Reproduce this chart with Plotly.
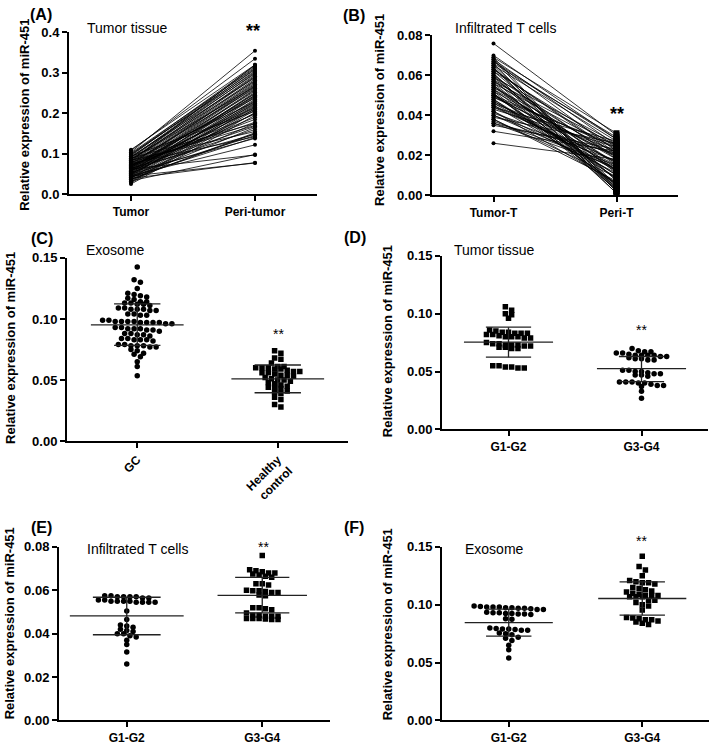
import plotly.graph_objects as go

W, H = 709, 747
FONT = "Arial, Liberation Sans, Helvetica, sans-serif"

# ---------------- DATA ----------------
# (A) Tumor tissue: paired samples
a_tumor = [0.104, 0.108, 0.110, 0.098, 0.095, 0.102, 0.090, 0.088, 0.085, 0.092,
           0.080, 0.083, 0.078, 0.075, 0.072, 0.086, 0.070, 0.068, 0.074, 0.065,
           0.062, 0.060, 0.077, 0.058, 0.055, 0.066, 0.052, 0.050, 0.063, 0.048,
           0.057, 0.045, 0.071, 0.043, 0.053, 0.040, 0.082, 0.038, 0.061, 0.047,
           0.035, 0.069, 0.032, 0.056, 0.030, 0.094, 0.028, 0.051, 0.025, 0.067,
           0.073, 0.044, 0.079, 0.041, 0.059, 0.084, 0.036, 0.064, 0.049, 0.076,
           0.042, 0.054, 0.089, 0.046, 0.033, 0.062, 0.071, 0.039, 0.045, 0.081,
           0.100, 0.093, 0.087, 0.066, 0.058, 0.050, 0.070, 0.063, 0.037, 0.097]
a_peri = [0.355, 0.335, 0.320, 0.318, 0.315, 0.312, 0.310, 0.305, 0.300, 0.298,
          0.295, 0.292, 0.290, 0.285, 0.282, 0.280, 0.278, 0.275, 0.272, 0.270,
          0.268, 0.265, 0.262, 0.260, 0.258, 0.255, 0.252, 0.250, 0.248, 0.245,
          0.242, 0.240, 0.238, 0.235, 0.232, 0.230, 0.228, 0.225, 0.222, 0.220,
          0.218, 0.215, 0.212, 0.210, 0.208, 0.205, 0.202, 0.200, 0.195, 0.190,
          0.178, 0.175, 0.170, 0.165, 0.160, 0.155, 0.150, 0.148, 0.145, 0.142,
          0.140, 0.138, 0.175, 0.122, 0.098, 0.097, 0.185, 0.078, 0.077, 0.320,
          0.302, 0.288, 0.266, 0.244, 0.226, 0.214, 0.198, 0.168, 0.152, 0.308]
a_cats = ["Tumor", "Peri-tumor"]

# (B) Infiltrated T cells: paired samples
b_tumor = [0.076, 0.070, 0.069, 0.068, 0.067, 0.066, 0.065, 0.064, 0.063, 0.062,
           0.061, 0.060, 0.059, 0.058, 0.057, 0.056, 0.055, 0.055, 0.054, 0.053,
           0.052, 0.051, 0.050, 0.050, 0.049, 0.048, 0.047, 0.046, 0.045, 0.044,
           0.043, 0.042, 0.041, 0.040, 0.039, 0.038, 0.037, 0.036, 0.035, 0.032,
           0.026, 0.068, 0.066, 0.064, 0.062, 0.060, 0.058, 0.056, 0.054, 0.052,
           0.050, 0.048, 0.046, 0.044, 0.042, 0.040, 0.038, 0.036, 0.069, 0.067,
           0.065, 0.063, 0.061, 0.059, 0.057, 0.053, 0.051, 0.049, 0.047, 0.045]
b_peri = [0.030, 0.028, 0.031, 0.025, 0.022, 0.004, 0.027, 0.003, 0.020, 0.024,
          0.002, 0.018, 0.026, 0.001, 0.015, 0.023, 0.005, 0.012, 0.021, 0.008,
          0.019, 0.003, 0.016, 0.010, 0.025, 0.006, 0.014, 0.022, 0.009, 0.017,
          0.024, 0.011, 0.020, 0.013, 0.026, 0.007, 0.015, 0.021, 0.023, 0.022,
          0.018, 0.002, 0.029, 0.005, 0.012, 0.001, 0.019, 0.008, 0.016, 0.004,
          0.024, 0.010, 0.013, 0.027, 0.006, 0.017, 0.009, 0.014, 0.003, 0.028,
          0.007, 0.021, 0.002, 0.011, 0.025, 0.018, 0.005, 0.020, 0.012, 0.015]
b_cats = ["Tumor-T", "Peri-T"]

# (C) Exosome: GC vs healthy control
c_gc = [0.1425, 0.132, 0.130, 0.125, 0.121, 0.120, 0.119, 0.118, 0.117, 0.116,
        0.114, 0.114, 0.113, 0.113, 0.112, 0.112, 0.111,
        0.109, 0.109, 0.108, 0.108, 0.108, 0.107, 0.107,
        0.104, 0.104, 0.103, 0.103,
        0.099, 0.099, 0.098, 0.098, 0.098, 0.098, 0.097, 0.097, 0.097, 0.097, 0.096, 0.096,
        0.093, 0.093, 0.092, 0.092, 0.092, 0.091, 0.091, 0.090,
        0.088, 0.088, 0.087, 0.087, 0.086,
        0.084, 0.084, 0.083, 0.083, 0.083, 0.082,
        0.079, 0.079, 0.078, 0.078, 0.078, 0.077, 0.077,
        0.075, 0.074, 0.072, 0.071, 0.069, 0.065, 0.061, 0.0535]
c_hc = [0.074, 0.072, 0.068, 0.067, 0.064, 0.061, 0.061, 0.060, 0.060, 0.060,
        0.059, 0.059, 0.058, 0.057, 0.057, 0.056, 0.056, 0.055, 0.054, 0.054,
        0.053, 0.052, 0.051, 0.050, 0.050, 0.049, 0.048, 0.047, 0.046, 0.045,
        0.044, 0.044, 0.043, 0.041, 0.040, 0.039, 0.036, 0.034, 0.030, 0.028]
c_cats = ["GC", "Healthy<br>control"]
c_mean = [0.0952, 0.0510]
c_sd_hi = [0.1123, 0.0623]
c_sd_lo = [0.0783, 0.0396]

# (D) Tumor tissue by grade
d_g12 = [0.106, 0.103, 0.100, 0.099, 0.096, 0.086, 0.085, 0.084, 0.084, 0.083,
         0.083, 0.083, 0.082, 0.082, 0.081, 0.080, 0.080, 0.080, 0.079, 0.079,
         0.075, 0.074, 0.074, 0.073, 0.073, 0.073, 0.072, 0.072, 0.071, 0.071,
         0.070, 0.070, 0.055, 0.055, 0.054, 0.054, 0.053, 0.053]
d_g34 = [0.070, 0.068, 0.067, 0.067, 0.066, 0.066, 0.065, 0.064, 0.064, 0.064,
         0.064, 0.063, 0.063, 0.062, 0.061, 0.061, 0.060, 0.060, 0.051, 0.051,
         0.050, 0.050, 0.049, 0.048, 0.048, 0.047, 0.047, 0.046, 0.041, 0.041,
         0.041, 0.040, 0.040, 0.039, 0.038, 0.038, 0.037, 0.033, 0.027]
grade_cats = ["G1-G2", "G3-G4"]
d_mean = [0.0754, 0.0525]
d_sd_hi = [0.0884, 0.0630]
d_sd_lo = [0.0624, 0.0412]

# (E) Infiltrated T cells by grade
e_g12 = [0.0575, 0.0575, 0.057, 0.057, 0.057, 0.057, 0.0565, 0.0565, 0.0555, 0.0555,
         0.055, 0.055, 0.055, 0.055, 0.0545, 0.0545, 0.0545, 0.0545, 0.0505, 0.0465,
         0.044, 0.0435, 0.043, 0.042, 0.0415, 0.041, 0.040, 0.040, 0.039, 0.0385,
         0.037, 0.035, 0.0315, 0.026]
e_g34 = [0.076, 0.0695, 0.069, 0.0685, 0.068, 0.068, 0.0675, 0.067, 0.0665, 0.066,
         0.063, 0.0625, 0.063, 0.060, 0.0598, 0.0598, 0.0595, 0.059, 0.059, 0.0578,
         0.0575, 0.052, 0.052, 0.0515, 0.051, 0.0495, 0.0485, 0.0485, 0.048, 0.048,
         0.048, 0.047, 0.047, 0.047, 0.0468, 0.0465, 0.0465]
e_mean = [0.0482, 0.0577]
e_sd_hi = [0.0568, 0.0660]
e_sd_lo = [0.0395, 0.0496]

# (F) Exosome by grade
f_g12 = [0.099, 0.0985, 0.098, 0.098, 0.098, 0.0975, 0.0975, 0.097, 0.097, 0.0965,
         0.096, 0.096, 0.0935, 0.093, 0.093, 0.0925, 0.0925, 0.092, 0.092, 0.0915,
         0.088, 0.0875, 0.080, 0.0795, 0.079, 0.079, 0.0785, 0.078, 0.078, 0.0755,
         0.075, 0.074, 0.072, 0.071, 0.069, 0.065, 0.061, 0.054]
f_g34 = [0.142, 0.133, 0.130, 0.125, 0.121, 0.120, 0.119, 0.119, 0.118, 0.115,
         0.114, 0.113, 0.112, 0.111, 0.110, 0.109, 0.108, 0.108, 0.108, 0.107,
         0.107, 0.107, 0.104, 0.104, 0.102, 0.100, 0.099, 0.0955, 0.089, 0.0885,
         0.088, 0.087, 0.087, 0.086, 0.085, 0.084, 0.083]
f_mean = [0.0845, 0.1054]
f_sd_hi = [0.0963, 0.1198]
f_sd_lo = [0.0729, 0.0910]

y_ticks_04 = [0.0, 0.1, 0.2, 0.3, 0.4]
y_ticks_008 = [0.00, 0.02, 0.04, 0.06, 0.08]
y_ticks_015 = [0.00, 0.05, 0.10, 0.15]

panel_titles = ["Tumor tissue", "Infiltrated T cells", "Exosome",
                "Tumor tissue", "Infiltrated T cells", "Exosome"]
panel_letters = ["(A)", "(B)", "(C)", "(D)", "(E)", "(F)"]
y_title = "Relative expression of miR-451"

# ---------------- LAYOUT (pixel geometry) ----------------
geo = [
    dict(x0=69, x1=317, yb=191, yt=26, ymax=0.4, ticks=y_ticks_04, fmt=".1f", cats=a_cats),
    dict(x0=432, x1=678, yb=192, yt=29, ymax=0.08, ticks=y_ticks_008, fmt=".2f", cats=b_cats),
    dict(x0=67, x1=348, yb=443, yt=256, ymax=0.15, ticks=y_ticks_015, fmt=".2f", cats=c_cats),
    dict(x0=442, x1=708, yb=431, yt=254, ymax=0.15, ticks=y_ticks_015, fmt=".2f", cats=grade_cats),
    dict(x0=59, x1=330, yb=728, yt=551, ymax=0.08, ticks=y_ticks_008, fmt=".2f", cats=grade_cats),
    dict(x0=442, x1=709, yb=728, yt=551, ymax=0.15, ticks=y_ticks_015, fmt=".2f", cats=grade_cats),
]

fig = go.Figure()


def ax_names(i):
    s = "" if i == 0 else str(i + 1)
    return "x" + s, "y" + s


def swarm(values, ppu_y, ppu_x, tol_px=4.2, step_px=6.3):
    order = sorted(range(len(values)), key=lambda k: -values[k])
    rows = []
    for k in order:
        if rows and (values[rows[-1][0]] - values[k]) * ppu_y <= tol_px:
            rows[-1].append(k)
        else:
            rows.append([k])
    off = [0.0] * len(values)
    for row in rows:
        n = len(row)
        for j, k in enumerate(row):
            off[k] = (j - (n - 1) / 2) * step_px / ppu_x
    return off


# paired panels A, B
for i, (t, p) in enumerate([(a_tumor, a_peri), (b_tumor, b_peri)]):
    xa, ya = ax_names(i)
    xs, ys = [], []
    for tv, pv in zip(t, p):
        xs += [0, 1, None]
        ys += [tv, pv, None]
    fig.add_trace(go.Scatter(x=xs, y=ys, mode="lines", xaxis=xa, yaxis=ya,
                             line=dict(color="black", width=0.8), showlegend=False,
                             hoverinfo="skip"))
    fig.add_trace(go.Scatter(x=[0] * len(t), y=t, mode="markers", xaxis=xa, yaxis=ya,
                             marker=dict(color="black", size=4), showlegend=False))
    fig.add_trace(go.Scatter(x=[1] * len(p), y=p, mode="markers", xaxis=xa, yaxis=ya,
                             marker=dict(color="black", size=4 if i == 0 else 6,
                                         symbol="circle" if i == 0 else "square"),
                             showlegend=False))

# dot plots C-F
dot_sets = [
    (2, [c_gc, c_hc], ["circle", "square"], c_mean, c_sd_hi, c_sd_lo, [0.33, 0.33], [0.165, 0.165]),
    (3, [d_g12, d_g34], ["square", "circle"], d_mean, d_sd_hi, d_sd_lo, [0.335, 0.335], [0.17, 0.17]),
    (4, [e_g12, e_g34], ["circle", "square"], e_mean, e_sd_hi, e_sd_lo, [0.42, 0.33], [0.25, 0.2]),
    (5, [f_g12, f_g34], ["circle", "square"], f_mean, f_sd_hi, f_sd_lo, [0.33, 0.33], [0.17, 0.17]),
]
for i, groups, syms, means, his, los, wm, ws in dot_sets:
    g = geo[i]
    xa, ya = ax_names(i)
    ppu_y = (g["yb"] - g["yt"]) / g["ymax"]
    ppu_x = (g["x1"] - g["x0"]) / 2.0
    for gi, vals in enumerate(groups):
        off = swarm(vals, ppu_y, ppu_x)
        fig.add_trace(go.Scatter(x=[gi + o for o in off], y=vals, mode="markers",
                                 xaxis=xa, yaxis=ya,
                                 marker=dict(color="black", size=5.5, symbol=syms[gi],
                                             line=dict(width=0)),
                                 showlegend=False))
        c = gi
        ex = [c - wm[gi], c + wm[gi], None, c - ws[gi], c + ws[gi], None,
              c - ws[gi], c + ws[gi], None, c, c]
        ey = [means[gi], means[gi], None, his[gi], his[gi], None,
              los[gi], los[gi], None, los[gi], his[gi]]
        fig.add_trace(go.Scatter(x=ex, y=ey, mode="lines", xaxis=xa, yaxis=ya,
                                 line=dict(color="#222", width=1.3), showlegend=False,
                                 hoverinfo="skip"))

layout = dict(width=W, height=H, margin=dict(l=0, r=0, t=0, b=0),
              paper_bgcolor="white", plot_bgcolor="white", showlegend=False,
              font=dict(family=FONT, color="black"))

for i, g in enumerate(geo):
    s = "" if i == 0 else str(i + 1)
    layout["xaxis" + s] = dict(
        domain=[g["x0"] / W, g["x1"] / W], range=[-0.5, 1.5], anchor="y" + s,
        showline=True, linecolor="black", linewidth=2, showgrid=False, zeroline=False,
        ticks="outside", ticklen=5, tickwidth=2, tickcolor="black",
        tickvals=[0, 1], ticktext=g["cats"], tickangle=-45 if i == 2 else 0,
        tickfont=dict(family=FONT, size=12, color="black", weight="bold"),
    )
    layout["yaxis" + s] = dict(
        domain=[1 - g["yb"] / H, 1 - g["yt"] / H], range=[0, g["ymax"]], anchor="x" + s,
        showline=True, linecolor="black", linewidth=2, showgrid=False, zeroline=False,
        ticks="outside", ticklen=5, tickwidth=2, tickcolor="black",
        tickvals=g["ticks"], tickformat=g["fmt"],
        tickfont=dict(family=FONT, size=13, color="black", weight="bold"),
    )

fig.update_layout(**layout)


def P(x, y):
    return x / W, 1 - y / H


annots = []
for (lx, ly), txt in zip([(41, 8), (354, 9), (42, 236), (355, 235), (41, 531), (354, 531)],
                         panel_letters):
    px, py = P(lx, ly)
    annots.append(dict(x=px, y=py, text=f"<b>{txt}</b>", showarrow=False,
                       xref="paper", yref="paper", xanchor="center", yanchor="middle",
                       font=dict(size=16, family=FONT)))
for (tx, ty) in [(25, 110), (380, 105), (10, 348), (387, 341), (9, 629), (387, 630)]:
    px, py = P(tx, ty)
    annots.append(dict(x=px, y=py, text=f"<b>{y_title}</b>", showarrow=False, textangle=-90,
                       xref="paper", yref="paper", xanchor="center", yanchor="middle",
                       font=dict(size=13, family=FONT)))
for (tx, ty), txt in zip([(127, 21), (505, 21), (115, 248), (494, 248), (137, 553), (494, 553)],
                         panel_titles):
    px, py = P(tx, ty)
    annots.append(dict(x=px, y=py, text=txt, showarrow=False,
                       xref="paper", yref="paper", xanchor="center", yanchor="middle",
                       font=dict(size=14, family=FONT)))
for (tx, ty), big in zip([(253, 25), (617, 109), (278, 334), (641, 330), (263, 551), (641, 545)],
                         [True, True, False, False, False, False]):
    px, py = P(tx, ty)
    annots.append(dict(x=px, y=py, text="<b>**</b>" if big else "**", showarrow=False,
                       xref="paper", yref="paper", xanchor="center", yanchor="middle",
                       font=dict(size=18 if big else 14, family=FONT)))

fig.update_layout(annotations=annots)
fig.write_html("out.html", config={"displayModeBar": False},
               post_script="document.body.style.margin='0';")
